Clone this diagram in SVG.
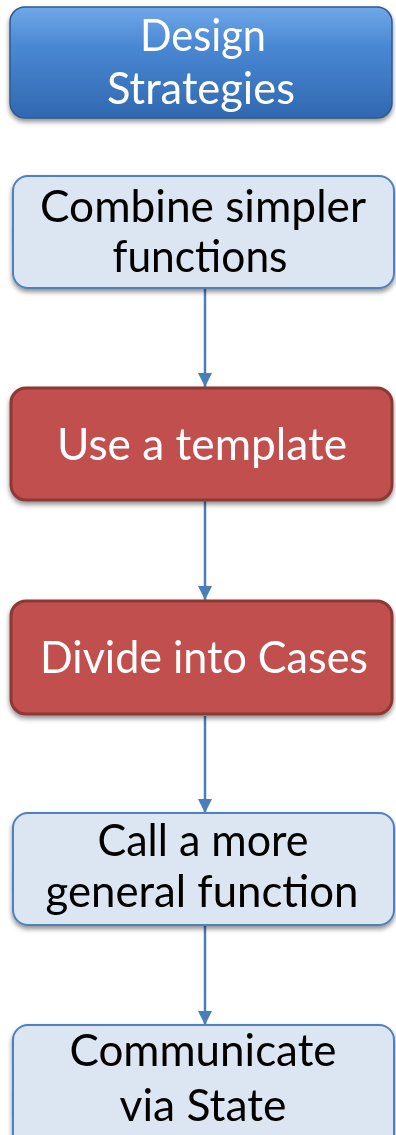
<svg xmlns="http://www.w3.org/2000/svg" width="396" height="1135" viewBox="0 0 396 1135">
  <defs>
    <linearGradient id="titleFill" x1="0" y1="0" x2="0" y2="1">
      <stop offset="0" stop-color="#70A8E8"/>
      <stop offset="0.35" stop-color="#4A88D4"/>
      <stop offset="1" stop-color="#3068B0"/>
    </linearGradient>
    <filter id="shadow" x="-10%" y="-10%" width="120%" height="130%">
      <feGaussianBlur in="SourceAlpha" stdDeviation="2.5"/>
      <feOffset dx="0" dy="3" result="b"/>
      <feComponentTransfer><feFuncA type="linear" slope="0.45"/></feComponentTransfer>
      <feMerge><feMergeNode/><feMergeNode in="SourceGraphic"/></feMerge>
    </filter>
    <marker id="arrow" viewBox="0 0 14 14" refX="14" refY="7" markerWidth="14" markerHeight="14" markerUnits="userSpaceOnUse" orient="auto">
      <path d="M0,0 L14,7 L0,14 Z" fill="#4A7EBB"/>
    </marker>
    <style>
      .light { fill: #DCE6F2; stroke: #4F81BD; stroke-width: 2; }
      .red { fill: #C0504D; stroke: #8C3836; stroke-width: 3; }
      .title { fill: url(#titleFill); stroke: #2F5A8F; stroke-width: 1.5; }
      .lbl { font-family: Lato, "Open Sans", "Liberation Sans", sans-serif; font-size: 44px; text-anchor: middle; }
      .dark { fill: #000000; }
      .white { fill: #FFFFFF; }
      .conn { stroke: #4A7EBB; stroke-width: 2.5; fill: none; marker-end: url(#arrow); }
    </style>
  </defs>

  <rect width="396" height="1135" fill="#FFFFFF"/>

  <!-- connectors between the steps -->
  <g id="connectors">
    <line class="conn" x1="205" y1="289" x2="205" y2="387"/>
    <line class="conn" x1="205" y1="501" x2="205" y2="600"/>
    <line class="conn" x1="205" y1="716" x2="205" y2="813"/>
    <line class="conn" x1="205" y1="926" x2="205" y2="1025"/>
  </g>

  <g id="title" filter="url(#shadow)">
    <rect class="title" x="10" y="7" width="382" height="111" rx="15"/>
    <text class="lbl white" x="203" y="51" textLength="126" lengthAdjust="spacingAndGlyphs">Design</text>
    <text class="lbl white" x="201" y="104" textLength="188" lengthAdjust="spacingAndGlyphs">Strategies</text>
  </g>

  <g id="combine" filter="url(#shadow)">
    <rect class="light" x="13" y="176" width="381" height="112" rx="15"/>
    <text class="lbl dark" x="203" y="222" textLength="326" lengthAdjust="spacingAndGlyphs">Combine simpler</text>
    <text class="lbl dark" x="200" y="272" textLength="175" lengthAdjust="spacingAndGlyphs">functions</text>
  </g>

  <g id="template" filter="url(#shadow)">
    <rect class="red" x="11" y="388" width="381" height="112" rx="15"/>
    <text class="lbl white" x="202" y="460" textLength="290" lengthAdjust="spacingAndGlyphs">Use a template</text>
  </g>

  <g id="cases" filter="url(#shadow)">
    <rect class="red" x="11" y="601" width="381" height="113" rx="15"/>
    <text class="lbl white" x="204" y="673" textLength="328" lengthAdjust="spacingAndGlyphs">Divide into Cases</text>
  </g>

  <g id="general" filter="url(#shadow)">
    <rect class="light" x="13" y="813" width="381" height="112" rx="15"/>
    <text class="lbl dark" x="203" y="856" textLength="211" lengthAdjust="spacingAndGlyphs">Call a more</text>
    <text class="lbl dark" x="202" y="907" textLength="313" lengthAdjust="spacingAndGlyphs">general function</text>
  </g>

  <g id="state" filter="url(#shadow)">
    <rect class="light" x="13" y="1025" width="381" height="125" rx="15"/>
    <text class="lbl dark" x="203" y="1066" textLength="267" lengthAdjust="spacingAndGlyphs">Communicate</text>
    <text class="lbl dark" x="203" y="1121" textLength="167" lengthAdjust="spacingAndGlyphs">via State</text>
  </g>
</svg>
